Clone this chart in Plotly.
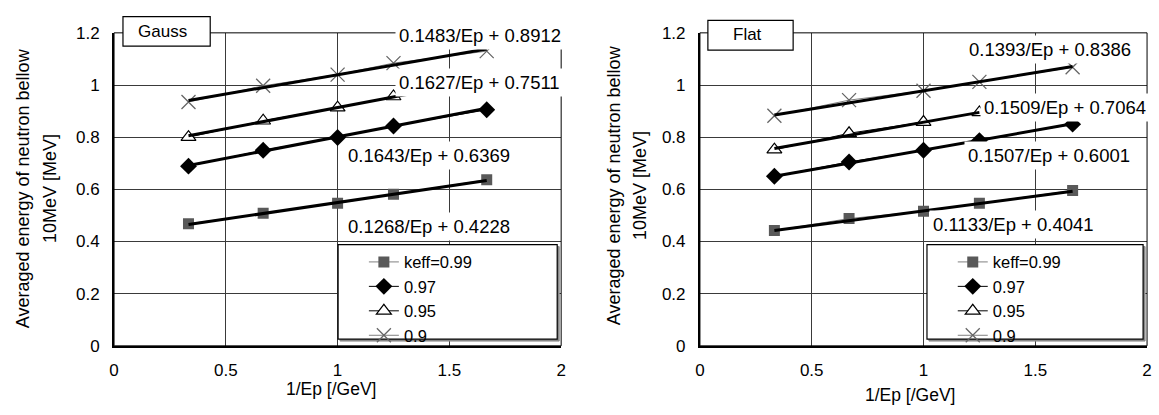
import plotly.graph_objects as go

W, H = 1159, 415

# ---- data ----
inv_ep = [0.333, 0.667, 1.0, 1.25, 1.667]          # 1/Ep [/GeV]
series_names = ["keff=0.99", "0.97", "0.95", "0.9"]

gauss_099 = [0.468, 0.508, 0.547, 0.581, 0.637]
gauss_097 = [0.689, 0.750, 0.799, 0.843, 0.905]
gauss_095 = [0.800, 0.863, 0.913, 0.956]
gauss_090 = [0.935, 0.997, 1.040, 1.084, 1.130]

flat_099 = [0.442, 0.488, 0.516, 0.547, 0.596]
flat_097 = [0.650, 0.705, 0.750, 0.787, 0.850]
flat_095 = [0.752, 0.815, 0.858, 0.895]
flat_090 = [0.882, 0.942, 0.978, 1.012, 1.068]

gauss_slope = [0.1268, 0.1643, 0.1627, 0.1483]
gauss_icpt = [0.4228, 0.6369, 0.7511, 0.8912]
flat_slope = [0.1133, 0.1507, 0.1509, 0.1393]
flat_icpt = [0.4041, 0.6001, 0.7064, 0.8386]
gauss_trend_end = [1.667, 1.667, 1.32, 1.667]
flat_trend_end = [1.667, 1.667, 1.25, 1.667]

gauss_labels = ["0.1268/Ep + 0.4228", "0.1643/Ep + 0.6369",
                "0.1627/Ep + 0.7511", "0.1483/Ep + 0.8912"]
flat_labels = ["0.1133/Ep + 0.4041", "0.1507/Ep + 0.6001",
               "0.1509/Ep + 0.7064", "0.1393/Ep + 0.8386"]

x_ticks = [0, 0.5, 1, 1.5, 2]
y_ticks = [0, 0.2, 0.4, 0.6, 0.8, 1.0, 1.2]

x_title = "1/Ep [/GeV]"
y_title_lines = ["Averaged energy of neutron bellow", "10MeV [MeV]"]

# ---- styles ----
FONT = "Liberation Sans, Arial, sans-serif"
markers = [
    dict(symbol="square", size=11, color="#595959", line=dict(width=0)),
    dict(symbol="diamond", size=13, color="black", line=dict(width=0)),
    dict(symbol="triangle-up", size=13, color="white", line=dict(color="black", width=1.2)),
    dict(symbol="x-thin-open", size=14, color="#666666", line=dict(color="#666666", width=1.3)),
]
line_cols = ["#808080", "black", "black", "#808080"]


def px(x):
    return x / W


def py(y):
    return 1 - y / H


fig = go.Figure()

panels = [
    dict(data=[gauss_099, gauss_097, gauss_095, gauss_090], slope=gauss_slope,
         icpt=gauss_icpt, tend=gauss_trend_end, xa="x", ya="y", legend="legend"),
    dict(data=[flat_099, flat_097, flat_095, flat_090], slope=flat_slope,
         icpt=flat_icpt, tend=flat_trend_end, xa="x2", ya="y2", legend="legend2"),
]

for p in panels:
    for i, ys in enumerate(p["data"]):
        fig.add_trace(go.Scatter(
            x=inv_ep[:len(ys)], y=ys, mode="lines+markers", name=series_names[i],
            marker=markers[i], line=dict(color=line_cols[i], width=1),
            xaxis=p["xa"], yaxis=p["ya"], legend=p["legend"], showlegend=True))
    for i, ys in enumerate(p["data"]):
        x0, x1 = inv_ep[0], p["tend"][i]
        fig.add_trace(go.Scatter(
            x=[x0, x1], y=[p["slope"][i] * x0 + p["icpt"][i], p["slope"][i] * x1 + p["icpt"][i]],
            mode="lines", line=dict(color="black", width=3),
            xaxis=p["xa"], yaxis=p["ya"], showlegend=False, hoverinfo="skip"))

axis_common = dict(
    showgrid=True, gridcolor="#3a3a3a", gridwidth=1, zeroline=False,
    showline=True, linecolor="black", linewidth=2, ticks="",
    tickfont=dict(family=FONT, size=17, color="black"),
)

LEG_FS = 16.5
fig.update_layout(
    width=W, height=H, margin=dict(l=0, r=0, t=0, b=0),
    paper_bgcolor="white", plot_bgcolor="white",
    font=dict(family=FONT, color="black"),
    xaxis=dict(domain=[px(110), px(561)], range=[0, 2], tickvals=x_ticks,
               anchor="y", ticklabelstandoff=8, **axis_common),
    yaxis=dict(domain=[py(353), py(25)], range=[0, 1.2], tickvals=y_ticks,
               anchor="x", ticklabelstandoff=9, **axis_common),
    xaxis2=dict(domain=[px(701), px(1152)], range=[0, 2], tickvals=x_ticks,
                anchor="y2", ticklabelstandoff=8, **axis_common),
    yaxis2=dict(domain=[py(353), py(25)], range=[0, 1.2], tickvals=y_ticks,
                anchor="x2", ticklabelstandoff=9, **axis_common),
    legend=dict(x=px(362), y=py(247), xanchor="left", yanchor="top",
                bgcolor="rgba(0,0,0,0)", borderwidth=0, tracegroupgap=0,
                font=dict(family=FONT, size=LEG_FS, color="black")),
    legend2=dict(x=px(956), y=py(247), xanchor="left", yanchor="top",
                 bgcolor="rgba(0,0,0,0)", borderwidth=0, tracegroupgap=0,
                 font=dict(family=FONT, size=LEG_FS, color="black")),
    showlegend=True,
)

shapes = []
for xr, yr in [("x domain", "y domain"), ("x2 domain", "y2 domain")]:
    shapes.append(dict(type="rect", xref=xr, yref=yr, x0=0, x1=1, y0=0, y1=1,
                       line=dict(color="black", width=1), layer="above"))
# legend boxes
for (l, r) in [(336, 557), (930, 1148)]:
    shapes.append(dict(type="rect", xref="paper", yref="paper",
                       x0=px(l + 2), x1=px(r + 2), y0=py(346 + 2), y1=py(247 + 2),
                       line=dict(color="#888888", width=1), fillcolor="#888888", layer="above"))
    shapes.append(dict(type="rect", xref="paper", yref="paper",
                       x0=px(l), x1=px(r), y0=py(346), y1=py(247),
                       line=dict(color="black", width=1.2), fillcolor="white", layer="above"))
# title boxes
for (l, r, t, b) in [(119, 207, 8, 39), (709, 795, 12, 43)]:
    shapes.append(dict(type="rect", xref="paper", yref="paper",
                       x0=px(l), x1=px(r), y0=py(b), y1=py(t),
                       line=dict(color="black", width=1.2), fillcolor="white", layer="above"))
fig.update_layout(shapes=shapes)

ann = []
# panel titles
for t, cx, cy in [("Gauss", 159, 24), ("Flat", 749, 27)]:
    ann.append(dict(text=t, x=px(cx), y=py(cy), xref="paper", yref="paper",
                    xanchor="center", yanchor="middle",
                    showarrow=False, font=dict(family=FONT, size=17)))
# equation labels (left edge px, center y px)
gauss_pos = [(345, 228), (345, 154), (396, 77), (396, 28)]
flat_pos = [(935, 226), (970, 154), (986, 103), (971, 42)]
for labels, pos in [(gauss_labels, gauss_pos), (flat_labels, flat_pos)]:
    for t, (lx, cy) in zip(labels, pos):
        ann.append(dict(text=t, x=px(lx - 3), y=py(cy), xref="paper", yref="paper",
                        xanchor="left", yanchor="middle", showarrow=False,
                        bgcolor="white", borderpad=3,
                        font=dict(family=FONT, size=18.5)))
# axis titles
for cx, cy in [(329, 398), (913, 405)]:
    ann.append(dict(text=x_title, x=px(cx), y=py(cy), xref="paper", yref="paper",
                    xanchor="center", yanchor="middle",
                    showarrow=False, font=dict(family=FONT, size=17.5)))
for (c1, c2), cy in [((19, 46), 188), ((614, 640), 185)]:
    for t, cx in zip(y_title_lines, (c1, c2)):
        ann.append(dict(text=t, x=px(cx), y=py(cy), xref="paper", yref="paper",
                        textangle=-90, xanchor="center", yanchor="middle",
                        showarrow=False, font=dict(family=FONT, size=18)))
fig.update_layout(annotations=ann)

fig.write_html("out.html")
